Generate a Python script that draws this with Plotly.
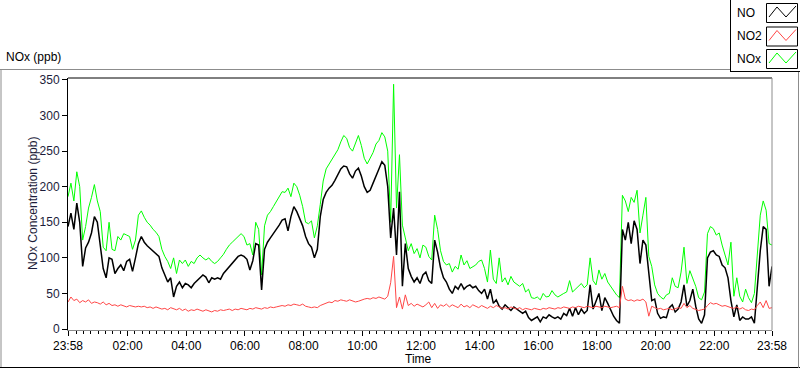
import plotly.graph_objects as go

# ---------------- data (6-minute samples from 23:58 to 23:58) ----------------
start_minute = -2
step_minutes = 6

nox = [186, 205, 180, 221, 200, 125, 144, 170, 185, 203, 180, 165, 115, 110, 150, 112, 110, 130, 125, 134,
       132, 130, 112, 125, 160, 166, 157, 150, 146, 140, 136, 130, 112, 102, 95, 85, 100, 78, 97, 92,
       97, 88, 95, 92, 100, 104, 100, 97, 100, 95, 92, 95, 100, 105, 112, 118, 122, 126, 131, 134,
       130, 118, 120, 104, 150, 140, 76, 145, 160, 165, 172, 179, 188, 193, 192, 198, 186, 205, 200, 188,
       172, 150, 148, 152, 128, 145, 175, 208, 225, 232, 238, 245, 252, 263, 272, 268, 255, 250, 260, 272,
       258, 240, 232, 240, 248, 260, 265, 276, 270, 250, 150, 344, 170, 245, 146, 128, 110, 120, 106, 113,
       100, 118, 115, 102, 97, 160, 140, 110, 95, 90, 92, 80, 88, 84, 104, 90, 96, 85, 88, 90,
       95, 97, 85, 66, 111, 70, 64, 100, 66, 72, 62, 74, 66, 63, 60, 64, 52, 56, 44, 43,
       45, 41, 50, 45, 46, 54, 48, 45, 48, 50, 52, 68, 52, 56, 60, 64, 58, 62, 100, 68,
       62, 83, 70, 78, 66, 60, 55, 48, 44, 188, 180, 165, 185, 178, 195, 135, 160, 185, 102, 88,
       62, 50, 45, 42, 48, 50, 72, 60, 58, 80, 115, 64, 82, 72, 60, 44, 41, 52, 134, 144,
       141, 132, 135, 118, 102, 90, 122, 46, 72, 46, 38, 56, 44, 37, 50, 110, 160, 180, 167, 120,
       118]

no = [144, 163, 140, 177, 150, 88, 114, 122, 135, 158, 150, 120, 85, 72, 100, 98, 78, 85, 90, 82,
      95, 98, 81, 100, 120, 130, 122, 117, 113, 110, 106, 102, 86, 76, 66, 72, 45, 60, 66, 58,
      64, 62, 58, 64, 68, 72, 76, 73, 65, 72, 70, 72, 70, 78, 83, 88, 93, 98, 102, 104,
      102, 98, 83, 96, 120, 118, 55, 112, 122, 128, 135, 140, 146, 153, 155, 138, 158, 172, 165, 155,
      145, 130, 120, 115, 100, 112, 158, 182, 192, 198, 202, 209, 218, 225, 229, 228, 218, 212, 222, 226,
      215, 200, 192, 195, 205, 214, 225, 235, 230, 200, 128, 170, 104, 193, 60, 120, 85, 74, 66, 72,
      64, 76, 80, 68, 64, 125, 108, 86, 72, 66, 56, 50, 60, 56, 64, 56, 60, 62, 58, 60,
      54, 50, 56, 42, 56, 36, 41, 32, 28, 34, 30, 26, 31, 28, 24, 22, 25, 16, 12, 14,
      17, 10, 17, 15, 20, 17, 15, 17, 14, 22, 19, 29, 18, 30, 20, 28, 22, 26, 62, 28,
      38, 50, 26, 44, 36, 26, 18, 12, 8, 140, 125, 150, 120, 152, 140, 92, 125, 118, 80, 40,
      42, 22, 15, 17, 16, 30, 34, 24, 28, 38, 62, 32, 40, 56, 32, 14, 8, 20, 100, 108,
      110, 104, 102, 90, 86, 72, 40, 17, 34, 12, 17, 14, 14, 17, 8, 60, 110, 144, 140, 60,
      88]

no2 = [38, 45, 40, 42, 37, 40, 38, 41, 36, 38, 37, 35, 38, 34, 36, 33, 34, 32, 34, 33,
       31, 33, 32, 31, 32, 31, 32, 30, 31, 29, 31, 30, 28, 29, 27, 30, 28, 27, 29, 26,
       28, 25, 27, 26, 28, 26, 25, 27, 26, 24, 26, 25, 27, 26, 27, 28, 26, 28, 27, 29,
       28, 27, 29, 28, 30, 29, 28, 30, 29, 31, 30, 31, 32, 33, 32, 34, 33, 35, 34, 33,
       35, 32, 31, 30, 31, 30, 33, 35, 36, 38, 37, 40, 39, 41, 40, 39, 41, 40, 38, 39,
       41, 42, 43, 42, 44, 43, 45, 44, 42, 46, 65, 102, 30, 45, 28, 48, 33, 36, 32, 35,
       33, 31, 34, 38, 30, 36, 29, 34, 32, 35, 31, 34, 32, 30, 35, 31, 33, 30, 34, 32,
       30, 33, 31, 29, 32, 30, 33, 31, 29, 30, 28, 31, 29, 28, 30, 27, 29, 28, 27, 29,
       28, 27, 29, 28, 30, 29, 28, 30, 29, 31, 30, 29, 31, 30, 32, 31, 30, 32, 31, 30,
       32, 31, 30, 32, 31, 30, 31, 32, 30, 60, 42, 40, 41, 39, 41, 40, 42, 38, 18, 32,
       30, 28, 29, 27, 28, 29, 27, 28, 30, 29, 36, 30, 33, 29, 27, 26, 27, 28, 33, 37,
       35, 36, 34, 32, 33, 31, 30, 29, 31, 28, 30, 27, 26, 28, 27, 33, 38, 30, 40, 29,
       30]

series_names = ["NO", "NO2", "NOx"]
series_colors = {"NO": "#000000", "NO2": "#FF4646", "NOx": "#00FF00"}

x_tick_minutes = [-2, 120, 240, 360, 480, 600, 720, 840, 960, 1080, 1200, 1320, 1438]
x_tick_labels = ["23:58", "02:00", "04:00", "06:00", "08:00", "10:00", "12:00",
                 "14:00", "16:00", "18:00", "20:00", "22:00", "23:58"]
y_tick_values = [0, 50, 100, 150, 200, 250, 300, 350]

times = [start_minute + step_minutes * i for i in range(len(nox))]

# ---------------- layout geometry ----------------
W, H = 800, 369
L, R, T, B = 68, 772, 78, 330          # plot area in pixels
PW, PH = R - L, B - T


def px(x):
    return (x - L) / PW


def py(y):
    return (B - y) / PH


FONT = "Segoe UI, Liberation Sans, Arial, sans-serif"

fig = go.Figure()
series_values = {"NOx": nox, "NO": no, "NO2": no2}
for name in ["NOx", "NO", "NO2"]:
    fig.add_trace(go.Scatter(
        x=times, y=series_values[name], mode="lines", name=name,
        line=dict(color=series_colors[name], width=1.5 if name == "NO" else 1),
        showlegend=False, hoverinfo="skip"))

shapes = []


def line(x0, y0, x1, y1, color, width=1):
    shapes.append(dict(type="line", xref="paper", yref="paper",
                       x0=px(x0), y0=py(y0), x1=px(x1), y1=py(y1),
                       line=dict(color=color, width=width), layer="above"))


# plot frame
line(L, T, R, T, "#000000")
line(R, T, R, B, "#8c8c8c")
# outer panel lines
line(0, 69.5, 730, 69.5, "#8c8c8c")
line(1, 69.5, 1, 368, "#8c8c8c")
line(0, 367.5, 800, 367.5, "#000000")
line(798.5, 72, 798.5, 368, "#8c8c8c")
# legend frame
line(730.5, 0, 730.5, 72, "#000000")
line(730.5, 71.5, 800, 71.5, "#000000")

annotations = []
legend_rows = [("NO", 13), ("NO2", 36.5), ("NOx", 59)]
for name, cy in legend_rows:
    shapes.append(dict(type="rect", xref="paper", yref="paper",
                       x0=px(766.5), x1=px(797.5), y0=py(cy - 9.5), y1=py(cy + 9.5),
                       line=dict(color="#000000", width=1), fillcolor="white"))
    zig = [(769, cy + 4), (777, cy - 6), (786, cy + 4), (796, cy - 7)]
    path = "M " + " L ".join(f"{px(a):.5f},{py(b):.5f}" for a, b in zig)
    shapes.append(dict(type="path", xref="paper", yref="paper", path=path,
                       line=dict(color=series_colors[name], width=1)))
    annotations.append(dict(text=name, x=px(735), y=py(cy), xref="paper", yref="paper",
                            xanchor="left", yanchor="middle", showarrow=False,
                            font=dict(family=FONT, size=12, color="#000000")))

annotations.append(dict(text="NOx (ppb)", x=px(4), y=py(57), xref="paper", yref="paper",
                        xanchor="left", yanchor="middle", showarrow=False,
                        font=dict(family=FONT, size=12, color="#000000")))
annotations.append(dict(text="NOx Concentration (ppb)", x=px(33), y=py(204), xref="paper",
                        yref="paper", textangle=-90, xanchor="center", yanchor="middle",
                        showarrow=False, font=dict(family=FONT, size=12, color="#1c1c3a")))
annotations.append(dict(text="Time", x=px(418), y=py(359), xref="paper", yref="paper",
                        xanchor="center", yanchor="middle", showarrow=False,
                        font=dict(family=FONT, size=12, color="#000000")))

minor_vals = [m for m in range(0, 1440, 15)]

fig.update_layout(
    width=W, height=H,
    margin=dict(l=L, r=W - R, t=T, b=H - B, pad=0),
    paper_bgcolor="white", plot_bgcolor="white",
    shapes=shapes, annotations=annotations,
    xaxis=dict(range=[start_minute, start_minute + 1440], tickvals=x_tick_minutes,
               ticktext=x_tick_labels, showgrid=False, zeroline=False,
               showline=True, linecolor="#8c8c8c", linewidth=1,
               ticks="outside", ticklen=5, tickcolor="#000000", tickwidth=1,
               minor=dict(tickvals=minor_vals, ticks="outside", ticklen=3,
                          tickcolor="#000000", tickwidth=1, showgrid=False),
               tickfont=dict(family=FONT, size=12, color="#000000")),
    yaxis=dict(range=[-1.4, 352.8], tickvals=y_tick_values, showgrid=False,
               zeroline=False, showline=True, linecolor="#000000", linewidth=1,
               ticks="outside", ticklen=5, tickcolor="#000000", tickwidth=1,
               tickfont=dict(family=FONT, size=12, color="#1c1c3a")),
)

fig.write_html("out.html", config={"displayModeBar": False, "staticPlot": True},
               post_script="document.body.style.margin='0';document.body.style.overflow='hidden';")
